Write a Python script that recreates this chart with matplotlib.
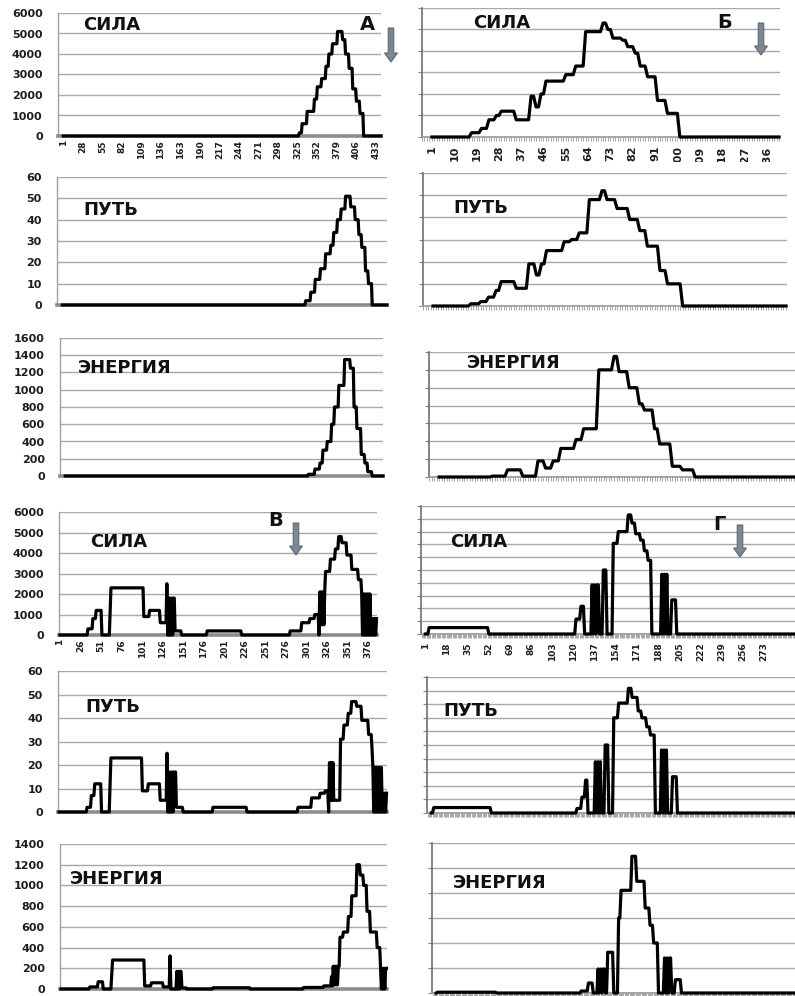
import numpy as np
import matplotlib
matplotlib.use('Agg')
import matplotlib.pyplot as plt
from matplotlib.patches import FancyArrow
from matplotlib.ticker import MultipleLocator
from matplotlib.transforms import Bbox, TransformedBbox

plt.rcParams['font.family'] = ['DejaVu Sans']

# ---------------- data (category index -> value, step encoded as start/value) -------------
# Panel А
A_force_starts = [1, 327, 331, 338, 348, 352, 358, 364, 368, 373, 380, 387, 391, 396, 401, 406, 411, 416]
A_force_vals = [0, 150, 600, 1200, 1800, 2400, 2800, 3400, 4000, 4500, 5100, 4700, 4000, 3300, 2300, 1700, 1100, 0]
A_path_starts = [1, 330, 337, 343, 350, 357, 364, 368, 373, 378, 384, 391, 397, 402, 406, 411, 415, 420]
A_path_vals = [0, 2, 6, 12, 17, 24, 28, 34, 40, 45, 51, 46, 40, 33, 27, 16, 10, 0]
A_energy_starts = [1, 337, 346, 353, 357, 363, 369, 373, 379, 387, 395, 400, 404, 410, 415, 419, 425]
A_energy_vals = [0, 20, 80, 150, 300, 400, 600, 800, 1050, 1350, 1250, 800, 550, 250, 150, 50, 0]
A_ticks = [1, 28, 55, 82, 109, 136, 163, 190, 217, 244, 271, 298, 325, 352, 379, 406, 433]

# Panel Б
B_force_starts = [1, 17, 21, 24, 27, 29, 35, 41, 43, 45, 47, 55, 59, 63, 70, 72, 74, 78, 80, 83, 85, 88, 92, 96, 101]
B_force_vals = [0, 200, 400, 800, 1000, 1200, 800, 1900, 1400, 2000, 2600, 2900, 3300, 4900, 5300, 5000, 4600, 4500, 4200, 3900, 3300, 2800, 1700, 1100, 0]
B_path_starts = [1, 16, 20, 23, 26, 28, 34, 39, 42, 44, 46, 53, 56, 59, 63, 68, 70, 74, 79, 83, 86, 91, 94, 100]
B_path_vals = [0, 1, 2, 4, 7, 11, 8, 19, 14, 19, 25, 29, 30, 33, 48, 52, 48, 44, 39, 34, 27, 16, 10, 0]
B_energy_starts = [1, 22, 28, 34, 40, 43, 46, 49, 55, 58, 64, 70, 72, 76, 80, 82, 86, 88, 93, 97, 102]
B_energy_vals = [0, 10, 80, 10, 180, 100, 180, 320, 420, 540, 1200, 1350, 1180, 1000, 820, 750, 540, 370, 120, 80, 0]
B_ticks = [1, 10, 19, 28, 37, 46, 55, 64, 73, 82, 91, 100, 109, 118, 127, 136]

# Panel В
V_force_starts = [1, 35, 41, 45, 52, 62, 63, 103, 110, 123, 131, 132, 133, 134, 135, 136, 137, 138, 139, 141, 149,
                  180, 222, 281, 295, 305, 311, 316, 317, 318, 319, 320, 321, 322, 323, 324, 330, 336, 340, 344, 350,
                  356, 364, 368, 369, 370, 371, 372, 373, 374, 375, 376, 377, 378, 379, 380, 381, 382, 383, 384, 385, 386]
V_force_vals = [0, 300, 800, 1200, 0, 1200, 2300, 900, 1200, 600, 2500, 0, 1800, 0, 1800, 0, 1800, 0, 1800, 200, 0,
                200, 0, 200, 600, 800, 1000, 0, 2100, 500, 2100, 500, 2100, 500, 2100, 3100, 3700, 4200, 4800, 4500, 3900,
                3200, 2700, 2000, 0, 2000, 0, 2000, 0, 2000, 0, 2000, 0, 2000, 0, 800, 0, 800, 0, 800, 0, 800]
V_path_starts = [1, 34, 39, 43, 51, 61, 62, 99, 106, 120, 128, 129, 130, 131, 132, 133, 134, 135, 136, 139, 147,
                 182, 222, 282, 298, 308, 314, 318, 319, 320, 321, 322, 323, 324, 332, 336, 341, 345, 351, 357, 365,
                 369, 370, 371, 372, 373, 374, 375, 376, 377, 378, 379, 380, 381, 382, 383, 384, 385, 386]
V_path_vals = [0, 2, 7, 12, 0, 12, 23, 9, 12, 5, 25, 0, 17, 0, 17, 0, 17, 0, 17, 2, 0,
               2, 0, 2, 6, 8, 9, 0, 21, 5, 21, 5, 21, 5, 31, 37, 42, 47, 45, 39, 33, 27,
               19, 0, 19, 0, 19, 0, 19, 0, 19, 0, 19, 0, 8, 0, 8, 0, 8, 8]
V_energy_starts = [1, 35, 45, 51, 61, 62, 100, 108, 122, 130, 131, 138, 139, 140, 141, 142, 144, 150,
                   181, 225, 288, 312, 321, 322, 323, 324, 325, 326, 327, 328, 329, 331, 335, 341, 345, 351, 355,
                   359, 363, 367, 375, 379, 380, 381, 382, 383, 384, 385]
V_energy_vals = [0, 20, 70, 0, 140, 280, 30, 60, 20, 320, 0, 170, 0, 170, 0, 170, 10, 0,
                 12, 0, 15, 30, 120, 30, 220, 40, 220, 40, 220, 40, 220, 500, 550, 700, 900, 1200, 1100,
                 1000, 750, 550, 400, 200, 0, 200, 0, 200, 0, 200]
V_ticks = [1, 26, 51, 76, 101, 126, 151, 176, 201, 226, 251, 276, 301, 326, 351, 376]

# Panel Г
G_force_starts = [1, 4, 52, 122, 126, 129, 135, 136, 137, 138, 139, 141, 144, 147, 152, 156, 164, 167, 170, 174,
                  177, 180, 183, 191, 192, 193, 194, 195, 196, 199, 203]
G_force_vals = [0, 300, 0, 700, 1300, 0, 2300, 0, 2300, 0, 2300, 0, 3000, 0, 4250, 4800, 5580, 5200, 4700, 4400,
                3900, 3450, 0, 2800, 0, 2800, 0, 2800, 0, 1600, 0]
G_path_starts = [1, 3, 50, 120, 124, 127, 129, 135, 136, 137, 138, 139, 140, 143, 146, 150, 154, 162, 165, 170,
                 173, 177, 180, 184, 189, 190, 191, 192, 193, 194, 198, 202]
G_path_vals = [0, 2.4, 0, 2, 7, 14.5, 0, 22.6, 0, 22.6, 0, 22.6, 0, 30, 0, 42, 48.5, 55, 51, 45,
               42, 38, 34.4, 0, 27.8, 0, 27.8, 0, 27.8, 0, 16, 0]
G_energy_starts = [1, 2, 51, 121, 127, 131, 135, 136, 137, 138, 139, 141, 143, 148, 152, 154, 163, 167, 174, 178,
                   181, 185, 190, 191, 192, 193, 194, 196, 199, 204]
G_energy_vals = [0, 8, 0, 20, 100, 0, 240, 0, 240, 0, 240, 0, 407, 0, 750, 1027, 1367, 1117, 850, 677,
                 500, 0, 350, 0, 350, 0, 350, 0, 133, 0]
G_ticks = [1, 18, 35, 52, 69, 86, 103, 120, 137, 154, 171, 188, 205, 222, 239, 256, 273]

labels_panel = ['СИЛА', 'ПУТЬ', 'ЭНЕРГИЯ']
letters = ['А', 'Б', 'В', 'Г']

# ---------------- figure ----------------
W, H = 795, 996
fig = plt.figure(figsize=(W / 100, H / 100), dpi=100)


def expand(n, starts, vals):
    arr = np.zeros(n)
    for i, s in enumerate(starts):
        e = starts[i + 1] if i + 1 < len(starts) else n + 1
        arr[s - 1:e - 1] = vals[i]
    return arr


def add_ax(l, r, t, b):
    return fig.add_axes([l / W, 1 - b / H, (r - l) / W, (b - t) / H])


def make_panel(rect, xlim, n, starts, vals, ymax, ystep, left_col, ticks=None, clip_y=None, tsize=6.5):
    ax = add_ax(*rect)
    x = np.arange(1, n + 1)
    y = expand(n, starts, vals)
    ax.plot(x, y, color='black', lw=2.3, clip_on=False, zorder=5, solid_joinstyle='round')
    ax.set_xlim(*xlim)
    ax.set_ylim(0, ymax)
    ax.set_yticks(np.arange(0, ymax + ystep / 2, ystep))
    ax.grid(axis='y', color='#a8a8a8', lw=1.0)
    ax.set_axisbelow(True)
    for s in ['top', 'right']:
        ax.spines[s].set_visible(False)
    if left_col:
        ax.spines['left'].set_color('#a0a0a0')
        ax.spines['left'].set_linewidth(1.0)
        ax.spines['bottom'].set_color('#8c8c8c')
        ax.spines['bottom'].set_linewidth(2.6)
        ax.tick_params(axis='y', length=0, pad=11, labelsize=8, labelcolor='#1e1e1e')
        for lab in ax.get_yticklabels():
            lab.set_fontweight('bold')
    else:
        ax.spines['left'].set_color('#707070')
        ax.spines['left'].set_linewidth(1.2)
        ax.spines['bottom'].set_color('#9a9a9a')
        ax.spines['bottom'].set_linewidth(1.2)
        ax.tick_params(axis='y', length=3, color='#808080', labelleft=False)
        ax.xaxis.set_minor_locator(MultipleLocator(1))
        ax.tick_params(axis='x', which='minor', length=3, width=0.6, color='#9a9a9a')
    if ticks is not None:
        ax.set_xticks(ticks)
        ax.set_xticklabels([str(t) for t in ticks], rotation=90, fontsize=tsize,
                           fontweight='bold', color='#1e1e1e')
        ax.tick_params(axis='x', which='major', length=0 if left_col else 3, pad=3,
                       color='#9a9a9a', width=0.6)
        if clip_y is not None:
            cb = TransformedBbox(Bbox([[0, 1 - clip_y / H], [1, 1]]), fig.transFigure)
            for lab in ax.get_xticklabels():
                lab.set_clip_box(cb)
                lab.set_clip_on(True)
    else:
        ax.set_xticks([])
        if not left_col:
            ax.tick_params(axis='x', which='minor', length=3)
    return ax


# Left column
A_xlim = (-6.3, 440)
V_xlim = (-0.2, 386.6)
B_xlim = (-3, 141.4)
G_xlim = (-2.5, 298)

make_panel((58, 381, 13, 136), A_xlim, 440, A_force_starts, A_force_vals, 6000, 1000, True, A_ticks)
make_panel((57, 387, 177, 305), A_xlim, 440, A_path_starts, A_path_vals, 60, 10, True)
make_panel((60, 383, 338, 476), A_xlim, 440, A_energy_starts, A_energy_vals, 1600, 200, True)
make_panel((59, 377, 512, 635), V_xlim, 386, V_force_starts, V_force_vals, 6000, 1000, True, V_ticks)
make_panel((58, 387, 671, 812), V_xlim, 386, V_path_starts, V_path_vals, 60, 10, True)
make_panel((60, 387, 844, 989), V_xlim, 386, V_energy_starts, V_energy_vals, 1400, 200, True)

# Right column
make_panel((422, 780, 8, 137), B_xlim, 141, B_force_starts, B_force_vals, 6000, 1000, False, B_ticks,
           clip_y=162, tsize=8)
make_panel((423, 787, 173, 306), B_xlim, 141, B_path_starts, B_path_vals, 60, 10, False)
make_panel((429, 795, 352, 477), B_xlim, 141, B_energy_starts, B_energy_vals, 1400, 200, False)
make_panel((421, 795, 506, 634), G_xlim, 298, G_force_starts, G_force_vals, 6000, 600, False, G_ticks)
make_panel((427, 795, 677, 813), G_xlim, 298, G_path_starts, G_path_vals, 60, 6, False)
make_panel((432, 795, 843, 993), G_xlim, 298, G_energy_starts, G_energy_vals, 1500, 250, False)

# Panel titles
title_pos = [
    (83, 25, 0), (473, 23, 0),
    (83, 210, 1), (453, 208, 1),
    (78, 368, 2), (467, 363, 2),
    (90, 542, 0), (450, 542, 0),
    (85, 707, 1), (443, 711, 1),
    (70, 879, 2), (453, 883, 2),
]
for x, y, k in title_pos:
    fig.text(x / W, 1 - y / H, labels_panel[k], fontsize=13, fontweight='bold',
             ha='left', va='center', color='#111111')

# Letters
letter_pos = [(360, 25), (717, 22), (268, 521), (713, 525)]
for (x, y), L in zip(letter_pos, letters):
    fig.text(x / W, 1 - y / H, L, fontsize=14, fontweight='bold', ha='left', va='center',
             color='#111111')

# Arrows (pixel coordinates -> inches)
arrow_pos = [(391, 28, 62), (761, 23, 55), (296, 523, 555), (740, 525, 557)]
for x, y0, y1 in arrow_pos:
    arr = FancyArrow(x / 100, (H - y0) / 100, 0, -(y1 - y0) / 100, width=0.055,
                     head_width=0.13, head_length=0.09, length_includes_head=True,
                     fc='#7d8792', ec='#5f6973', lw=0.8, transform=fig.dpi_scale_trans)
    fig.add_artist(arr)

fig.savefig('out.png', dpi=100, facecolor='white')
